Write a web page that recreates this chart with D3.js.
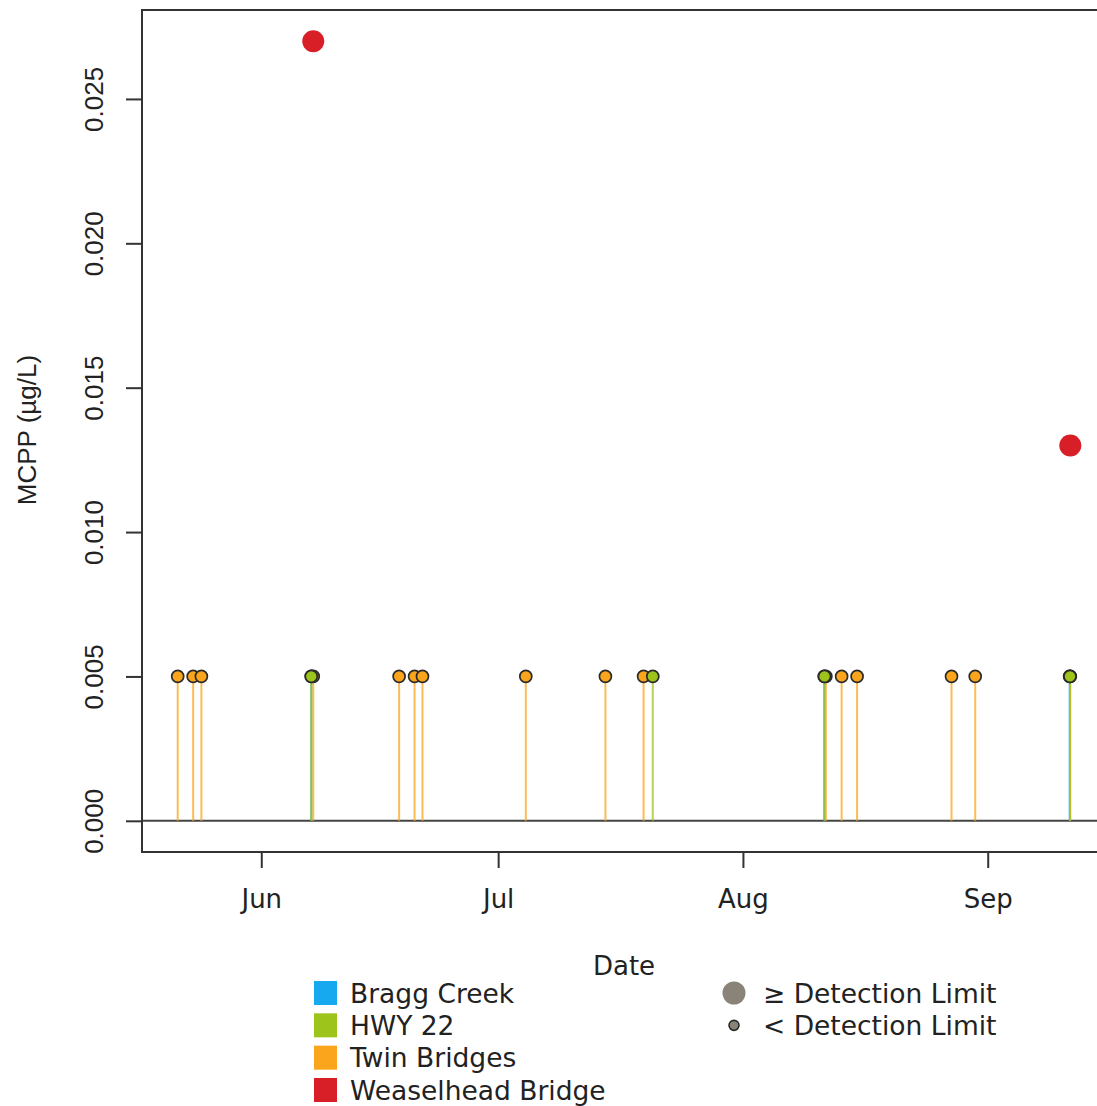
<!DOCTYPE html>
<html lang="en">
  <head>
    <meta charset="utf-8">
    <title>MCPP by site</title>
    <script type="text/javascript" src="https://cdn.jsdelivr.net/npm/d3@7"></script>
    <style>
      body { margin: 0; background: #fff; }
      .ylab text { font-family: "Liberation Sans", Arial, sans-serif; font-size: 26px; fill: #222; }
      .xlab text { font-family: "DejaVu Sans", sans-serif; font-size: 26px; fill: #222; }
      .legend text { font-family: "DejaVu Sans", sans-serif; font-size: 26.5px; fill: #222; }
    </style>
  </head>
  <body>
    <script type="text/javascript">

      var w = 1097;
      var h = 1106;

      // sites and colours
      var sites = ["Bragg Creek", "HWY 22", "Twin Bridges", "Weaselhead Bridge"];
      var siteColors = ["#17a9f0", "#9dc41a", "#fba51c", "#d81f27"];

      // samples below detection limit (plotted at the limit, with a stem)
      var detectionLimit = 0.005;
      var braggNd = ["2016-06-07 08:00", "2016-08-11 07:00", "2016-09-11 09:00"];
      var hwyNd = ["2016-06-07 08:00", "2016-07-20 14:00", "2016-08-11 08:00", "2016-09-11 10:00"];
      var twinNd = ["2016-05-21 10:00", "2016-05-23 09:00", "2016-05-24 10:00", "2016-06-07 14:00",
                    "2016-06-18 11:00", "2016-06-20 10:00", "2016-06-21 10:00", "2016-07-04 12:00",
                    "2016-07-14 14:00", "2016-07-19 10:00", "2016-08-11 12:00", "2016-08-13 12:00",
                    "2016-08-15 11:00", "2016-08-27 10:00", "2016-08-30 10:00", "2016-09-11 11:00"];

      // detected samples
      var weaselDates = ["2016-06-07 14:00", "2016-09-11 11:00"];
      var weaselValues = [0.027, 0.013];

      var yTicks = [0.000, 0.005, 0.010, 0.015, 0.020, 0.025];
      var monthTicks = ["2016-06-01", "2016-07-01", "2016-08-01", "2016-09-01"];

      var parseT = d3.timeParse("%Y-%m-%d %H:%M");
      var parseD = d3.timeParse("%Y-%m-%d");

      var nd = [];
      [braggNd, twinNd, hwyNd].forEach(function(arr) {
        var site = arr === braggNd ? 0 : (arr === hwyNd ? 1 : 2);
        arr.forEach(function(s) { nd.push({ site: site, date: parseT(s), value: detectionLimit }); });
      });
      var det = weaselDates.map(function(s, i) {
        return { site: 3, date: parseT(s), value: weaselValues[i] };
      });

      var allDates = nd.concat(det).map(function(d) { return d.date; });
      var dMin = d3.min(allDates), dMax = d3.max(allDates);
      var span = dMax - dMin;

      var padL = 142, padT = 10, padB = 852;
      var xScale = d3.scaleTime()
                     .domain([new Date(+dMin - span * 0.04), new Date(+dMax + span * 0.04)])
                     .range([padL, padL + 964]);
      var yMax = 0.027;
      var yScale = d3.scaleLinear()
                     .domain([-yMax * 0.04, yMax * 1.04])
                     .range([padB, padT]);

      var svg = d3.select("body").append("svg")
                  .attr("width", w)
                  .attr("height", h);

      // zero line
      svg.append("line")
         .attr("x1", padL).attr("x2", w)
         .attr("y1", yScale(0)).attr("y2", yScale(0))
         .attr("stroke", "#444").attr("stroke-width", 2);

      // stems
      svg.selectAll("line.stem")
         .data(nd)
         .enter()
         .append("line")
         .attr("class", "stem")
         .attr("x1", function(d) { return xScale(d.date); })
         .attr("x2", function(d) { return xScale(d.date); })
         .attr("y1", yScale(0))
         .attr("y2", function(d) { return yScale(d.value); })
         .attr("stroke", function(d) { return siteColors[d.site]; })
         .attr("stroke-opacity", 0.75)
         .attr("stroke-width", 2);

      // non-detect points
      svg.selectAll("circle.nd")
         .data(nd)
         .enter()
         .append("circle")
         .attr("class", "nd")
         .attr("cx", function(d) { return xScale(d.date); })
         .attr("cy", function(d) { return yScale(d.value); })
         .attr("r", 6)
         .attr("fill", function(d) { return siteColors[d.site]; })
         .attr("stroke", "#2a2a2a")
         .attr("stroke-width", 1.7);

      // detected points
      svg.selectAll("circle.det")
         .data(det)
         .enter()
         .append("circle")
         .attr("class", "det")
         .attr("cx", function(d) { return xScale(d.date); })
         .attr("cy", function(d) { return yScale(d.value); })
         .attr("r", 11)
         .attr("fill", function(d) { return siteColors[d.site]; });

      // plot frame
      svg.append("path")
         .attr("d", "M" + w + "," + padT + "H" + padL + "V" + padB + "H" + w)
         .attr("fill", "none")
         .attr("stroke", "#333")
         .attr("stroke-width", 2);

      // y axis
      var yAxis = d3.axisLeft(yScale)
                    .tickValues(yTicks)
                    .tickSize(16)
                    .tickPadding(0)
                    .tickFormat(d3.format(".3f"));
      var gy = svg.append("g")
                  .attr("class", "ylab")
                  .attr("transform", "translate(" + padL + ",0)")
                  .call(yAxis);
      gy.select(".domain").remove();
      gy.selectAll(".tick line").attr("stroke", "#333").attr("stroke-width", 2);
      gy.selectAll(".tick text")
        .attr("x", 0).attr("dy", null)
        .attr("text-anchor", "middle")
        .attr("transform", "translate(-48,0) rotate(-90)")
        .attr("dominant-baseline", "central")
        .attr("font-size", null)
        .attr("font-family", null);

      // x axis
      var xAxis = d3.axisBottom(xScale)
                    .tickValues(monthTicks.map(parseD))
                    .tickSize(16)
                    .tickPadding(22)
                    .tickFormat(d3.timeFormat("%b"));
      var gx = svg.append("g")
                  .attr("class", "xlab")
                  .attr("transform", "translate(0," + padB + ")")
                  .call(xAxis);
      gx.select(".domain").remove();
      gx.selectAll(".tick line").attr("stroke", "#333").attr("stroke-width", 2);
      gx.selectAll(".tick text").attr("font-size", null).attr("font-family", null);

      // axis titles
      svg.append("text")
         .attr("transform", "translate(27,430) rotate(-90)")
         .attr("text-anchor", "middle")
         .attr("dominant-baseline", "central")
         .attr("font-family", "Liberation Sans, Arial, sans-serif")
         .attr("font-size", "26px")
         .attr("fill", "#222")
         .text("MCPP (µg/L)");

      svg.append("text")
         .attr("x", 624).attr("y", 966)
         .attr("text-anchor", "middle")
         .attr("dominant-baseline", "central")
         .attr("font-family", "DejaVu Sans, sans-serif")
         .attr("font-size", "26px")
         .attr("fill", "#222")
         .text("Date");

      // legend: sites
      var lg = svg.append("g").attr("class", "legend");
      var rowY = d3.scaleLinear().domain([0, 3]).range([993, 1090]);
      lg.selectAll("rect")
        .data(sites)
        .enter()
        .append("rect")
        .attr("x", 314)
        .attr("y", function(d, i) { return rowY(i) - 12; })
        .attr("width", 23)
        .attr("height", 24)
        .attr("fill", function(d, i) { return siteColors[i]; });
      lg.selectAll("text.site")
        .data(sites)
        .enter()
        .append("text")
        .attr("class", "site")
        .attr("x", 350)
        .attr("y", function(d, i) { return rowY(i); })
        .attr("dominant-baseline", "central")
        .text(function(d) { return d; });

      // legend: detection limit
      var dlLabels = ["\u2265 Detection Limit", "< Detection Limit"];
      var dlRadius = [11.5, 5];
      lg.selectAll("circle")
        .data(dlLabels)
        .enter()
        .append("circle")
        .attr("cx", 734)
        .attr("cy", function(d, i) { return rowY(i); })
        .attr("r", function(d, i) { return dlRadius[i]; })
        .attr("fill", "#8a8478")
        .attr("stroke", function(d, i) { return i ? "#2a2a2a" : "none"; })
        .attr("stroke-width", 1.6);
      lg.selectAll("text.dl")
        .data(dlLabels)
        .enter()
        .append("text")
        .attr("class", "dl")
        .attr("x", 763)
        .attr("y", function(d, i) { return rowY(i); })
        .attr("dominant-baseline", "central")
        .text(function(d) { return d; });

    </script>
  </body>
</html>
